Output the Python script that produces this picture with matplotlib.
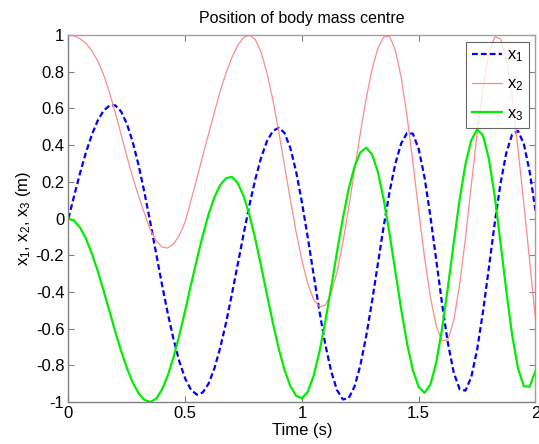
import numpy as np
import matplotlib
matplotlib.use("Agg")
import matplotlib.pyplot as plt

plt.rcParams['font.family'] = ['Liberation Sans', 'DejaVu Sans']
plt.rcParams['mathtext.fontset'] = 'custom'
plt.rcParams['mathtext.rm'] = 'Liberation Sans'
plt.rcParams['mathtext.it'] = 'Liberation Sans:italic'

# sample times (s), step 0.025
time = np.linspace(0.0, 2.0, 81)

x1 = [0.0, 0.127, 0.249, 0.36, 0.456, 0.533, 0.587, 0.615, 0.617, 0.584,
      0.517, 0.418, 0.292, 0.144, -0.018, -0.187, -0.356, -0.515, -0.658, -0.78,
      -0.873, -0.934, -0.96, -0.948, -0.90, -0.817, -0.704, -0.567, -0.412, -0.249,
      -0.085, 0.073, 0.213, 0.332, 0.421, 0.476, 0.495, 0.467, 0.385, 0.255,
      0.087, -0.105, -0.308, -0.507, -0.687, -0.833, -0.935, -0.986, -0.979, -0.916,
      -0.80, -0.641, -0.452, -0.247, -0.042, 0.145, 0.30, 0.41, 0.466, 0.462,
      0.378, 0.223, 0.012, -0.227, -0.466, -0.68, -0.84, -0.93, -0.938, -0.864,
      -0.715, -0.51, -0.272, -0.029, 0.189, 0.358, 0.458, 0.478, 0.407, 0.255,
      0.043]

x2 = [1.0, 0.995, 0.98, 0.955, 0.915, 0.86, 0.785, 0.69, 0.58, 0.46,
      0.34, 0.225, 0.125, 0.03, -0.06, -0.12, -0.155, -0.161, -0.139, -0.091,
      -0.017, 0.10, 0.22, 0.34, 0.46, 0.58, 0.695, 0.795, 0.878, 0.944,
      0.986, 1.0, 0.976, 0.906, 0.794, 0.648, 0.477, 0.291, 0.105, -0.074,
      -0.23, -0.356, -0.441, -0.482, -0.473, -0.408, -0.292, -0.133, 0.057, 0.262,
      0.466, 0.655, 0.813, 0.927, 0.99, 0.993, 0.918, 0.768, 0.556, 0.306,
      0.039, -0.214, -0.429, -0.586, -0.667, -0.66, -0.556, -0.36, -0.108, 0.18,
      0.465, 0.713, 0.896, 0.99, 0.98, 0.87, 0.66, 0.38, 0.08, -0.23,
      -0.55]

x3 = [0.0, -0.013, -0.05, -0.11, -0.19, -0.285, -0.391, -0.502, -0.614, -0.72,
      -0.814, -0.893, -0.952, -0.988, -1.0, -0.983, -0.934, -0.857, -0.756, -0.635,
      -0.50, -0.36, -0.222, -0.093, 0.023, 0.116, 0.183, 0.22, 0.227, 0.193,
      0.123, 0.019, -0.11, -0.259, -0.414, -0.567, -0.707, -0.824, -0.913, -0.966,
      -0.98, -0.944, -0.857, -0.725, -0.56, -0.375, -0.182, 0.001, 0.161, 0.283,
      0.361, 0.386, 0.35, 0.254, 0.104, -0.083, -0.29, -0.496, -0.681, -0.827,
      -0.919, -0.95, -0.905, -0.784, -0.60, -0.374, -0.131, 0.102, 0.295, 0.427,
      0.485, 0.454, 0.328, 0.124, -0.129, -0.394, -0.635, -0.816, -0.914, -0.917,
      -0.83]

series_labels = ['x$_1$', 'x$_2$', 'x$_3$']
title = 'Position of body mass centre'
xlabel = 'Time (s)'
ylabel = 'x$_1$, x$_2$, x$_3$ (m)'
xticks = [0, 0.5, 1, 1.5, 2]
xticklabels = ['0', '0.5', '1', '1.5', '2']
yticks = [-1, -0.8, -0.6, -0.4, -0.2, 0, 0.2, 0.4, 0.6, 0.8, 1]
yticklabels = ['-1', '-0.8', '-0.6', '-0.4', '-0.2', '0', '0.2', '0.4', '0.6', '0.8', '1']

fig = plt.figure(figsize=(5.39, 4.44), dpi=100)
ax = fig.add_axes([0.127, 0.0946, 0.8665, 0.8265])

ax.plot(time, x1, color='#0000ff', lw=1.6, linestyle=(0, (2.6, 1.4)), label=series_labels[0])
ax.plot(time, x2, color='#ff8a8a', lw=0.9, label=series_labels[1])
ax.plot(time, x3, color='#00ee00', lw=1.6, label=series_labels[2])

ax.set_xlim(0, 2)
ax.set_ylim(-1, 1)
ax.set_xticks(xticks)
ax.set_xticklabels(xticklabels)
ax.set_yticks(yticks)
ax.set_yticklabels(yticklabels)
ax.tick_params(direction='in', length=4, width=0.8, color='#808080',
               top=True, right=True, labelsize=12, pad=3)
for s in ax.spines.values():
    s.set_color('#a0a0a0')
    s.set_linewidth(1.0)
ax.spines['left'].set_color('#808080')
ax.spines['bottom'].set_color('#808080')

ax.set_title(title, fontsize=11.5, pad=9)
ax.set_xlabel(xlabel, fontsize=12, labelpad=1)
ax.set_ylabel(ylabel, fontsize=12, labelpad=2)

leg = ax.legend(loc='upper right', fontsize=12, frameon=True, fancybox=False,
                edgecolor='#404040', handlelength=1.8, handletextpad=0.3,
                borderpad=0.35, labelspacing=0.75, borderaxespad=0.4)
leg.get_frame().set_linewidth(0.8)

fig.savefig('out.png', dpi=100)
